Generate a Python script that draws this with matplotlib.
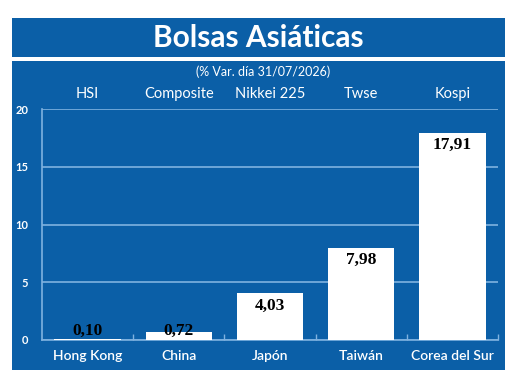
import matplotlib
matplotlib.use("Agg")
import matplotlib.pyplot as plt
from matplotlib.patches import Rectangle

categories = ["Hong Kong", "China", "Japón", "Taiwán", "Corea del Sur"]
indices = ["HSI", "Composite", "Nikkei 225", "Twse", "Kospi"]
values = [0.10, 0.72, 4.03, 7.98, 17.91]
value_labels = ["0,10", "0,72", "4,03", "7,98", "17,91"]
yticks = [0, 5, 10, 15, 20]

BLUE = "#0b5fa7"
GRID = "#7fb2e0"
W, H = 520, 385

fig = plt.figure(figsize=(W / 100, H / 100), dpi=100, facecolor="white")

def box(x0, y0, x1, y1):
    fig.patches.append(Rectangle((x0 / W, 1 - y1 / H), (x1 - x0) / W, (y1 - y0) / H,
                                 transform=fig.transFigure, facecolor=BLUE,
                                 edgecolor="none", zorder=-5))

box(12, 18, 505, 57)
box(12, 61, 505, 370)

fig.text(258 / W, 1 - 38 / H, "Bolsas Asiáticas", color="white", fontsize=21.5,
         fontweight="bold", family="Lato", ha="center", va="center")
fig.text(263 / W, 1 - 72 / H, "(% Var. día 31/07/2026)", color="white", fontsize=9,
         family="Lato", ha="center", va="center")

ax = fig.add_axes([42 / W, 1 - 340 / H, 456 / W, 231 / H])
ax.set_zorder(1)
ax.set_facecolor(BLUE)
x = list(range(len(categories)))
ax.bar(x, values, width=0.73, color="white", zorder=3)
ax.set_xlim(-0.5, 4.5)
ax.set_ylim(0, 20)
ax.set_yticks(yticks)
ax.set_yticklabels([str(t) for t in yticks], color="white", fontsize=8,
                   fontweight="bold", family="Lato")
ax.grid(axis="y", color=GRID, linewidth=1.2, zorder=1)
ax.tick_params(axis="y", length=0, pad=10)
ax.set_xticks(x)
ax.set_xticklabels(categories, color="white", fontsize=10, family="Lato",
                   fontweight="semibold")
ax.tick_params(axis="x", which="major", length=0, pad=7)
ax.set_xticks([0.5, 1.5, 2.5, 3.5, 4.5], minor=True)
ax.tick_params(axis="x", which="minor", direction="in", length=4, color=GRID, width=1)
for s in ["top", "right"]:
    ax.spines[s].set_visible(False)
for s in ["left", "bottom"]:
    ax.spines[s].set_color(GRID)
    ax.spines[s].set_linewidth(1.2)

for xi, v, lab in zip(x, values, value_labels):
    ypos = max(v, 1.85)
    ax.annotate(lab, (xi, ypos), xytext=(0, -3), textcoords="offset points",
                ha="center", va="top", fontsize=12.5, fontweight="bold",
                family="Liberation Serif", color="black", zorder=4)

for xi, lab in zip(x, indices):
    ax.text(xi, 21.3, lab, ha="center", va="center", color="white", fontsize=10.5,
            family="Lato", clip_on=False)

fig.savefig("out.png", dpi=100, facecolor="white")
